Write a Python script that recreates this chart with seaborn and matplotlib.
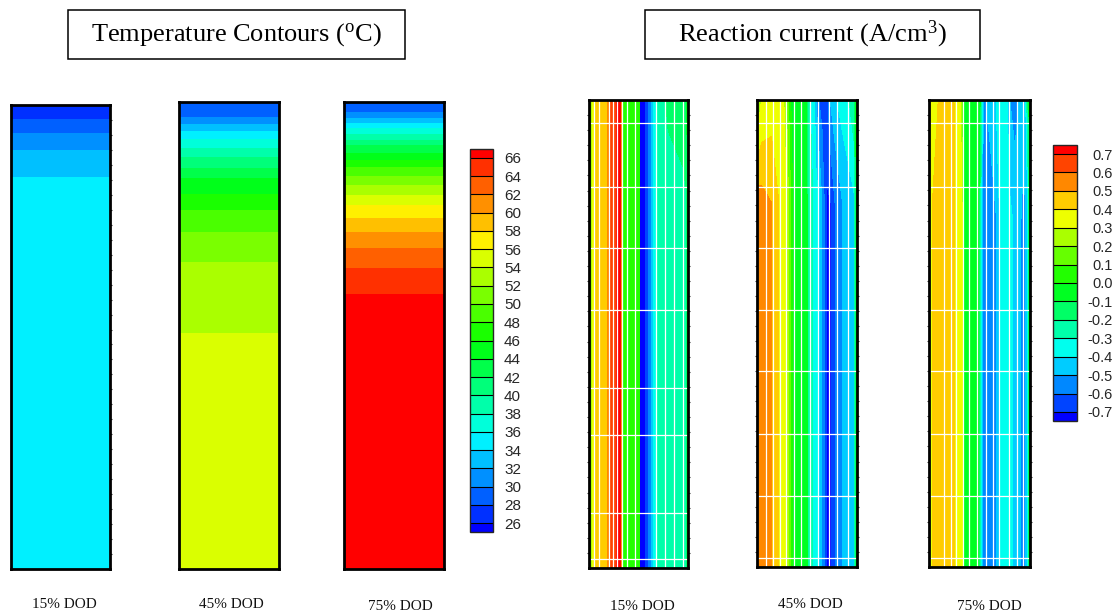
import numpy as np
import matplotlib
matplotlib.use("Agg")
import matplotlib.pyplot as plt
from matplotlib.colors import ListedColormap
from matplotlib.patches import Rectangle
import seaborn as sns

# ---------------- data ----------------
DOD_LABELS = ["15% DOD", "45% DOD", "75% DOD"]

# Temperature contour levels (deg C)
TEMP_LEVELS = [26, 28, 30, 32, 34, 36, 38, 40, 42, 44, 46, 48, 50, 52, 54, 56, 58, 60, 62, 64, 66]

# Temperature along the cell height (0 = bottom, 1 = top); nodes sit on the isotherms
T15_H = [0.0, 0.845, 0.903, 0.940, 0.970, 1.0]
T15_V = [35.2, 34, 32, 30, 28, 26.8]

T45_H = [0.0, 0.506, 0.658, 0.7223, 0.7687, 0.8024, 0.8366, 0.8593, 0.8816,
         0.9009, 0.920, 0.9386, 0.953, 0.9685, 1.0]
T45_V = [55.2, 54, 52, 50, 48, 46, 44, 42, 40, 38, 36, 34, 32, 30, 29.0]

T75_H = [0.0, 0.5889, 0.6452, 0.688, 0.7223, 0.7523, 0.7794, 0.8009, 0.8223,
         0.8422, 0.8615, 0.8758, 0.8914, 0.9079, 0.9193, 0.9308, 0.9437, 0.9557,
         0.9664, 0.978, 1.0]
T75_V = [67.5, 66, 64, 62, 60, 58, 56, 54, 52, 50, 48, 46, 44, 42, 40, 38, 36,
         34, 32, 30, 29.0]

# Reaction current contour levels (A/cm^3)
RC_LEVELS = [-0.7, -0.6, -0.5, -0.4, -0.3, -0.2, -0.1, 0.0, 0.1, 0.2, 0.3, 0.4, 0.5, 0.6, 0.7]
RC_TICKLABELS = ["-0.7", "-0.6", "-0.5", "-0.4", "-0.3", "-0.2", "-0.1", "0.0",
                 "0.1", "0.2", "0.3", "0.4", "0.5", "0.6", "0.7"]

# Reaction current across the cell width (0 = left, 1 = right), given at a few heights
RC15_X = [0, .027, .061, .179, .205, .273, .303, .323, .340, .505, .515, .525,
          .566, .599, .626, .650, .684, .80, .95, .987, 1.0]
RC15_LOW = [0.22, 0.3, 0.4, 0.5, 0.6, 0.7, 0.76, 0.7, 0.09, 0.01, -0.7, -0.76,
            -0.7, -0.6, -0.5, -0.4, -0.3, -0.26, -0.22, -0.2, 0.05]
RC15_TOP = [0.22, 0.3, 0.4, 0.5, 0.6, 0.7, 0.76, 0.7, 0.09, 0.01, -0.7, -0.76,
            -0.7, -0.6, -0.5, -0.4, -0.3, -0.17, -0.15, -0.12, 0.05]
RC15_H = [0.0, 0.8, 1.0]

RC45_X = [0, .03, .046, .145, .22, .245, .294, .34, .36, .49, .50, .51, .53, .56,
          .574, .59, .62, .65, .68, .70, .71, .73, .74, .78, .80, .855, .92, .97, 1.0]
RC45_LOW = [.56, .548, .541, .50, .40, .366, .30, .084, -.01, -.084, -.09, -.2,
            -.24, -.3, -.323, -.35, -.4, -.5, -.632, -.72, -.715, -.705, -.70,
            -.60, -.573, -.5, -.455, -.42, 0.0]
RC45_TOP = [.2, .265, .3, .345, .379, .39, .2, -.01, -.021, -.09, -.2, -.233,
            -.3, -.368, -.4, -.5, -.6, -.64, -.68, -.627, -.6, -.5, -.486, -.429,
            -.4, -.354, -.3, -.22, 0.0]
RC45_H = [0.0, 0.78, 1.0]

RC75_X = [0, .035, .16, .18, .255, .31, .33, .345, .49, .505, .52, .535, .55, .57,
          .60, .665, .70, .72, .765, .78, .80, .83, .85, .89, .91, .935, .955, .98, 1.0]
RC75_LOW = [.3, .41, .455, .444, .403, .329, .3, -.01, -.09, -.25, -.4, -.506,
            -.523, -.546, -.58, -.506, -.4, -.382, -.34, -.354, -.372, -.4, -.425,
            -.475, -.5, -.56, -.512, -.4, 0.0]
RC75_TOP = [.3, .35, .461, .47, .392, .3, .112, -.01, -.083, -.09, -.267, -.5,
            -.56, -.496, -.465, -.398, -.361, -.34, -.387, -.413, -.5, -.53, -.55,
            -.5, -.475, -.445, -.42, -.187, 0.0]
RC75_H = [0.0, 0.74, 1.0]

# Computational mesh lines drawn over the current contours
MESH_X = [
    [.05, .098, .2, .24, .285, .33, .385, .46, .675, .77, .862, .95],
    [.09, .155, .225, .29, .365, .44, .525, .61, .72, .80, .91],
    [.145, .216, .27, .34, .40, .48, .56, .63, .69, .79, .87, .935],
]
MESH_Y = [
    [.951, .814, .684, .551, .385, .284, .118, .019],
    [.951, .814, .684, .551, .419, .284, .152, .019],
    [.951, .814, .684, .551, .419, .284, .152, .019],
]

# ---------------- style ----------------
sns.set_theme(style="white")
plt.rcParams["font.family"] = ["Liberation Serif", "DejaVu Serif"]
plt.rcParams["mathtext.fontset"] = "custom"
plt.rcParams["mathtext.rm"] = "Liberation Serif"

RAINBOW = ["#0000ff", "#00ffff", "#00ff00", "#ffff00", "#ff0000"]


def banded_cmap(n_levels):
    cols = sns.blend_palette(RAINBOW, n_colors=n_levels + 1)
    cmap = ListedColormap(cols[1:-1])
    cmap.set_under(cols[0])
    cmap.set_over(cols[-1])
    return cmap


temp_cmap = banded_cmap(len(TEMP_LEVELS))
rc_cmap = banded_cmap(len(RC_LEVELS))

W, H = 1120, 616
fig = plt.figure(figsize=(W / 100, H / 100), dpi=100)


def px_axes(l, t, r, b):
    return fig.add_axes([l / W, 1 - b / H, (r - l) / W, (b - t) / H])


def frame(ax, lw=2.0):
    ax.set_xlim(0, 1)
    ax.set_ylim(0, 1)
    ax.set_xticks([])
    ax.set_yticks([])
    for sp in ax.spines.values():
        sp.set_visible(True)
        sp.set_color("black")
        sp.set_linewidth(lw)
        sp.set_zorder(10)


# ---------------- temperature panels ----------------
temp_boxes = [(11, 105, 110, 569), (179, 102, 279, 569), (344, 102, 444, 569)]
temp_profiles = [(T15_H, T15_V), (T45_H, T45_V), (T75_H, T75_V)]
temp_label_x = [64, 231, 400]
temp_label_y = [604, 604, 606]

temp_cs = None
for i, (box, (hs, vs)) in enumerate(zip(temp_boxes, temp_profiles)):
    ax = px_axes(*box)
    Z = np.column_stack([vs, vs])
    temp_cs = ax.contourf([0.0, 1.0], hs, Z, levels=TEMP_LEVELS,
                          cmap=temp_cmap, extend="both")
    frame(ax)
    if i == 0:
        ax.set_yticks(np.linspace(0, 1, 32)[1:-1])
        ax.tick_params(axis="y", left=False, right=True, direction="out",
                       length=1.5, width=0.8, color="#333333",
                       labelleft=False, labelright=False)
    fig.text(temp_label_x[i] / W, 1 - temp_label_y[i] / H, DOD_LABELS[i],
             ha="center", va="center", fontsize=11, color="#111111")

tcax = px_axes(470, 149, 493, 532)
tcb = fig.colorbar(temp_cs, cax=tcax, extendrect=True, extendfrac=0.024,
                   drawedges=True)
tcb.set_ticks(TEMP_LEVELS, labels=[str(v) for v in TEMP_LEVELS])
tcb.ax.tick_params(length=0, pad=8, labelsize=11)
for lab in tcb.ax.get_yticklabels():
    lab.set_fontfamily("Liberation Sans")
tcb.outline.set_linewidth(1.0)
tcb.dividers.set_linewidth(0.8)
tcb.dividers.set_color("black")

# ---------------- reaction current panels ----------------
rc_boxes = [(589, 100, 688, 568), (757, 100, 857, 567), (929, 100, 1030, 567)]
rc_fields = [
    (RC15_X, RC15_H, [RC15_LOW, RC15_LOW, RC15_TOP]),
    (RC45_X, RC45_H, [RC45_LOW, RC45_LOW, RC45_TOP]),
    (RC75_X, RC75_H, [RC75_LOW, RC75_LOW, RC75_TOP]),
]
rc_label_x = [642, 810, 989]
rc_label_y = [606, 605, 607]

rc_cs = None
for i, (box, (xs, hs, rows)) in enumerate(zip(rc_boxes, rc_fields)):
    ax = px_axes(*box)
    rc_cs = ax.contourf(xs, hs, np.array(rows), levels=RC_LEVELS,
                        cmap=rc_cmap, extend="both")
    for mx in MESH_X[i]:
        ax.axvline(mx, color="white", lw=0.9, zorder=5)
    for my in MESH_Y[i]:
        ax.axhline(my, color="white", lw=0.9, zorder=5)
    frame(ax)
    ax.set_yticks(np.linspace(0, 1, 32)[1:-1])
    ax.tick_params(axis="y", left=True, right=True, direction="out",
                   length=1.5, width=0.8, color="#333333",
                   labelleft=False, labelright=False)
    fig.text(rc_label_x[i] / W, 1 - rc_label_y[i] / H, DOD_LABELS[i],
             ha="center", va="center", fontsize=11, color="#111111")

rcax = px_axes(1053, 145, 1077, 421)
rcb = fig.colorbar(rc_cs, cax=rcax, extendrect=True, extendfrac=0.035,
                   drawedges=True)
rcb.set_ticks(RC_LEVELS, labels=RC_TICKLABELS)
rcb.ax.tick_params(length=0, pad=26, labelsize=10.5)
for lab in rcb.ax.get_yticklabels():
    lab.set_fontfamily("Liberation Sans")
    lab.set_horizontalalignment("right")
rcb.outline.set_linewidth(1.0)
rcb.dividers.set_linewidth(0.8)
rcb.dividers.set_color("black")

# ---------------- boxed titles ----------------
def boxed_title(l, t, r, b, text):
    fig.add_artist(Rectangle((l / W, 1 - b / H), (r - l) / W, (b - t) / H,
                             transform=fig.transFigure, fill=False,
                             edgecolor="black", linewidth=1.1))
    fig.text((l + r) / 2 / W, 1 - (t + b) / 2 / H, text, ha="center",
             va="center", fontsize=19, color="black")


boxed_title(68, 10, 405, 59, r"Temperature Contours ($\mathregular{^o}$C)")
boxed_title(645, 10, 980, 59, r"Reaction current (A/cm$\mathregular{^3}$)")

fig.savefig("out.png", dpi=100, facecolor="white")
